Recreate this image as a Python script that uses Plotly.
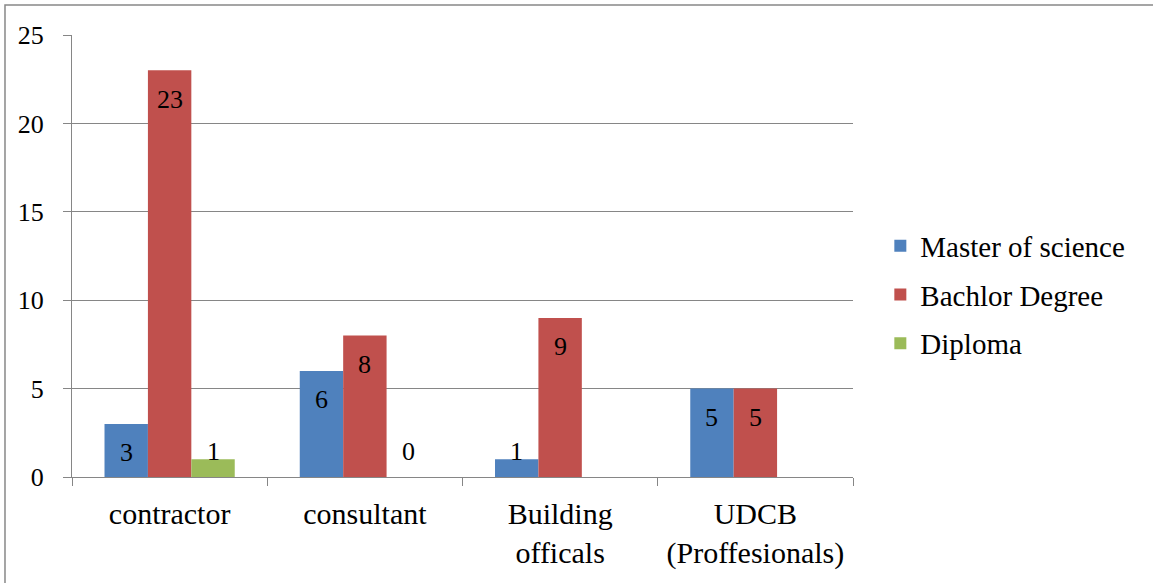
import plotly.graph_objects as go

categories = ["contractor", "consultant", "Building<br>officals", "UDCB<br>(Proffesionals)"]
series_names = ["Master of science", "Bachlor Degree", "Diploma"]
master = [3, 6, 1, 5]
bachlor = [23, 8, 9, 5]
diploma = [1, 0, None, None]
colors = ["#4F81BD", "#C0504D", "#9BBB59"]
y_ticks = [0, 5, 10, 15, 20, 25]

FONT = "Liberation Serif, Times New Roman, serif"
all_series = [master, bachlor, diploma]

fig = go.Figure()
for j, (name, vals, col) in enumerate(zip(series_names, all_series, colors)):
    fig.add_trace(go.Bar(
        x=categories, y=vals, name=name, marker=dict(color=col, line=dict(width=0)),
        legendgroup=name,
    ))

bargap = 0.333
bw = (1 - bargap) / 3
annotations = []
for j, vals in enumerate(all_series):
    for i, v in enumerate(vals):
        if v is None:
            continue
        if v >= 3:
            yy, ys = v, -29
        else:
            yy, ys = 0, 26
        annotations.append(dict(
            x=i + (j - 1) * bw, y=yy, xref="x", yref="y", yshift=ys,
            text=str(v), showarrow=False, yanchor="middle", xanchor="center",
            font=dict(family=FONT, size=26, color="black"),
        ))

fig.update_layout(
    width=1153, height=583,
    margin=dict(l=72, r=300, t=35, b=106),
    paper_bgcolor="white", plot_bgcolor="white",
    barmode="group", bargap=bargap, bargroupgap=0,
    font=dict(family=FONT, size=26, color="black"),
    annotations=annotations,
    showlegend=True,
    legend=dict(
        x=1.035, y=0.412, xanchor="left", yanchor="middle",
        font=dict(family=FONT, size=29, color="black"),
        traceorder="grouped", tracegroupgap=8,
        itemwidth=30, bgcolor="rgba(0,0,0,0)",
    ),
    shapes=[dict(type="rect", xref="paper", yref="paper",
                 x0=-0.0858, x1=1.5, y0=-0.5, y1=1.068,
                 line=dict(color="#888888", width=1.5), layer="below")],
)
fig.update_xaxes(
    type="category", tickson="boundaries", ticks="outside", ticklen=8,
    tickcolor="#868686", showline=True, linecolor="#868686", linewidth=1,
    showgrid=False, tickfont=dict(family=FONT, size=30, color="black"),
    ticklabelstandoff=10, range=[-0.5, 3.5],
)
fig.update_yaxes(
    range=[0, 25], tickvals=y_ticks, ticks="outside", ticklen=8,
    tickcolor="#868686", showline=True, linecolor="#868686", linewidth=1,
    showgrid=True, gridcolor="#868686", gridwidth=1, zeroline=False,
    tickfont=dict(family=FONT, size=26, color="black"), ticklabelstandoff=14,
)

fig.write_html("out.html")
